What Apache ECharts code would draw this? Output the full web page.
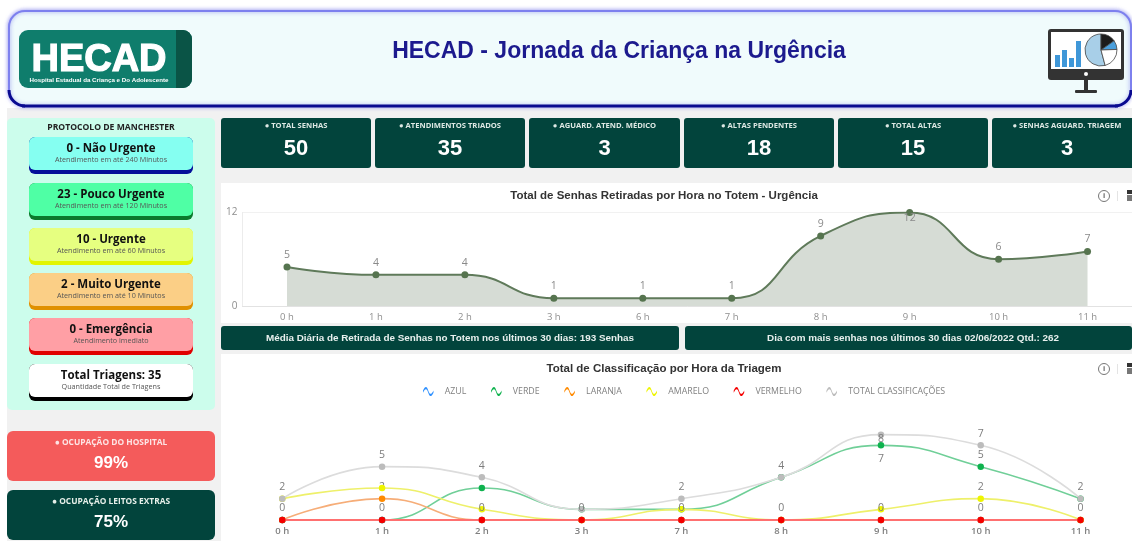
<!DOCTYPE html>
<html><head><meta charset="utf-8">
<style>html,body{margin:0;padding:0;background:#fff}#c{width:1132px;height:541px}</style>
<script src="https://cdn.jsdelivr.net/npm/echarts@6/dist/echarts.min.js"></script>
</head><body><div id="c"></div>
<script>
const totemHours = ['0 h','1 h','2 h','3 h','6 h','7 h','8 h','9 h','10 h','11 h'];
const totemValues = [5,4,4,1,1,1,9,12,6,7];
const triageHours = ['0 h','1 h','2 h','3 h','7 h','8 h','9 h','10 h','11 h'];
const azul = [0,0,0,0,0,0,0,0,0];
const verde = [0,0,3,1,1,4,7,5,2];
const laranja = [0,2,0,0,0,0,0,0,0];
const amarelo = [2,3,1,0,1,0,1,2,0];
const vermelho = [0,0,0,0,0,0,0,0,0];
const totalClass = [2,5,4,1,2,4,8,7,2];
const verdeLabelled = [6,7];
const laranjaLabelled = [1];
const amareloLabelled = [7];
const vermelhoLabelled = [0,1,2,3,4,5,6,7,8];
const totalLabelled = [0,1,2,4,5,6,7,8];
const kpiNames = ['TOTAL SENHAS','ATENDIMENTOS TRIADOS','AGUARD. ATEND. MÉDICO','ALTAS PENDENTES','TOTAL ALTAS','SENHAS AGUARD. TRIAGEM'];
const kpiValues = ['50','35','3','18','15','3'];
const protocolTitles = ['0 - Não Urgente','23 - Pouco Urgente','10 - Urgente','2 - Muito Urgente','0 - Emergência','Total Triagens: 35'];
const protocolNotes = ['Atendimento em até 240 Minutos','Atendimento em até 120 Minutos','Atendimento em até 60 Minutos','Atendimento em até 10 Minutos','Atendimento imediato','Quantidade Total de Triagens'];
const occupancyNames = ['OCUPAÇÃO DO HOSPITAL','OCUPAÇÃO LEITOS EXTRAS'];
const occupancyValues = ['99%','75%'];

const DARK='#02443c', SANS='"Liberation Sans",Arial,sans-serif', OPEN='"Open Sans",sans-serif';
const g=[];
const rect=(x,y,w,h,fill,r=0,extra={})=>g.push({type:'rect',shape:{x,y,width:w,height:h,r},style:{fill,...(extra.style||{})},z:extra.z||1,silent:true});
const text=(x,y,t,font,fill,extra={})=>g.push({type:'text',x,y,style:{text:t,font,fill,align:extra.align||'center',verticalAlign:'middle',stroke:extra.stroke,lineWidth:extra.lw||0},z:extra.z||5,silent:true});

// page + header
rect(7,108,1125,433,'#f1f1f1',0,{z:0});
g.push({type:'rect',shape:{x:9,y:11,width:1122,height:95,r:16},style:{fill:'#f0fbfc',stroke:'#7d80ee',lineWidth:2,shadowBlur:4,shadowColor:'rgba(90,90,230,.6)'},z:1,silent:true});
g.push({type:'polyline',shape:{points:[[22,106],[1118,106]]},style:{stroke:'#0a0a90',lineWidth:3},z:2,silent:true});
g.push({type:'arc',shape:{cx:25,cy:90,r:16,startAngle:Math.PI/2,endAngle:Math.PI},style:{stroke:'#0a0a90',lineWidth:3,fill:'none'},z:2,silent:true});
g.push({type:'arc',shape:{cx:1115,cy:90,r:16,startAngle:0,endAngle:Math.PI/2},style:{stroke:'#0a0a90',lineWidth:3,fill:'none'},z:2,silent:true});
text(619,52,'HECAD - Jornada da Criança na Urgência','bold 23px '+SANS,'#1c1a8e');

// logo
rect(19,30,173,58,'#0f7d6c',9,{z:2});
rect(176,30,16,58,'#0a5446',[0,9,9,0],{z:3});
text(99,61,'HECAD','900 38px '+SANS,'#fff',{stroke:'#fff',lw:1.2});
text(99,80.5,'Hospital Estadual da Criança e Do Adolescente','bold 6.2px '+SANS,'#fff');

// monitor icon
rect(1048,29,76,51,'#333',3,{z:2});
rect(1051,32,70,37,'#fff',0,{z:3});
g.push({type:'circle',shape:{cx:1086,cy:74,r:2},style:{fill:'#fff'},z:4,silent:true});
rect(1084,80,4,10,'#333',0,{z:2});
rect(1075,90,22,3,'#333',1,{z:2});
rect(1055,55,5,12,'#3f97d8',0,{z:4});rect(1062,50,5,17,'#3f97d8',0,{z:4});rect(1069,58,5,9,'#3f97d8',0,{z:4});rect(1076,41,5,26,'#3f97d8',0,{z:4});
const sec=(a,b,fill)=>g.push({type:'sector',shape:{cx:1101,cy:50,r:16,startAngle:a*Math.PI/180,endAngle:b*Math.PI/180},style:{fill,stroke:'#444',lineWidth:.8},z:4,silent:true});
sec(75,270,'#a8cfe8');sec(270,325,'#1c1c1c');sec(325,358,'#4a9fdc');sec(-2,75,'#fff');

// protocol panel
rect(7,118,208,292,'#ccfdec',5,{z:1});
text(111,128,'PROTOCOLO DE MANCHESTER','bold 8.6px '+OPEN,'#222');
const fills=['#85fff1','#4fffa5','#e6ff80','#fbcf86','#ff9fa5','#ffffff'];
const edges=['#04109a','#0a7a2c','#e2f500','#e09000','#e00000','#000000'];
const tops=[137,183,228,273,318,364];
protocolTitles.forEach((t,i)=>{
  rect(29,tops[i],164,37,edges[i],6,{z:2});
  rect(29,tops[i],164,33,fills[i],6,{z:3});
  text(111,tops[i]+12,t,'bold 11.5px '+OPEN,'#111');
  text(111,tops[i]+23,protocolNotes[i],'7.2px '+OPEN,'#555');
});

// occupancy cards
[['#f45b5b',431],[DARK,490]].forEach(([c,y],i)=>{
  rect(7,y,208,50,c,6,{z:2});
  text(111,y+12,'● '+occupancyNames[i],'bold 8.4px '+OPEN,i?'#e6efe9':'#fde4e4');
  text(111,y+32,occupancyValues[i],'bold 17px '+SANS,'#fff');
});

// KPI cards
const kx=[221,375,529,684,838,992], kw=[150,150,151,150,150,150];
kpiNames.forEach((n,i)=>{
  rect(kx[i],118,kw[i],50,DARK,3,{z:2});
  text(kx[i]+kw[i]/2,126,'● '+n,'bold 7.6px '+OPEN,'#dde8e4');
  text(kx[i]+kw[i]/2,148.5,kpiValues[i],'bold 22px '+SANS,'#fff');
});

// chart panels + info bars
rect(221,183,911,140,'#fff',0,{z:1});
rect(221,354,911,187,'#fff',0,{z:1});
rect(221,326,458,24,DARK,3,{z:2});
rect(685,326,447,24,DARK,3,{z:2});
text(450,338.5,'Média Diária de Retirada de Senhas no Totem nos últimos 30 dias: 193 Senhas','bold 9.9px '+SANS,'#e8f0ee');
text(913,338.5,'Dia com mais senhas nos últimos 30 dias 02/06/2022 Qtd.: 262','bold 9.9px '+SANS,'#e8f0ee');

// toolbar glyphs
[196,369].forEach(y=>{
  g.push({type:'circle',shape:{cx:1104,cy:y,r:5.5},style:{fill:'#fff',stroke:'#777',lineWidth:1},z:3,silent:true});
  text(1104,y,'i','bold 8px '+SANS,'#666');
  rect(1117,y-5,1,10,'#e4e4e4',0,{z:3});
  rect(1127,y-6,5,4,'#333',0,{z:3});
  rect(1127,y-1,5,6,'#777',0,{z:3});
});

// below: map of point index -> label offset below the mark
const lab=(vals,list,below={})=>vals.map((v,i)=>({value:v,label:
  i in below ? {show:true,position:'inside',offset:[0,below[i]]}
             : {show:list.includes(i),position:'top'}}));
const triSeries=(name,vals,lineC,markC,list,below,z,w=1.6)=>({
  name,type:'line',xAxisIndex:1,yAxisIndex:1,smooth:true,data:lab(vals,list,below),z,
  symbol:'circle',symbolSize:6.5,
  lineStyle:{color:lineC,width:w},itemStyle:{color:markC},
  label:{color:'#7d7d7d',fontSize:10.5,fontFamily:OPEN,distance:3},
  emphasis:{disabled:true}
});
const wave='path://M0,5 C3,-1 5,-1 7,5 C9,11 11,11 14,5 L14,8 C11,14 9,14 7,8 C5,2 3,2 0,8 Z';

const option={
  animation:false,backgroundColor:'transparent',
  title:[
    {text:'Total de Senhas Retiradas por Hora no Totem - Urgência',left:664,top:190,textAlign:'center',textStyle:{fontFamily:SANS,fontSize:11.5,fontWeight:'bold',color:'#333'},padding:0},
    {text:'Total de Classificação por Hora da Triagem',left:664,top:363,textAlign:'center',textStyle:{fontFamily:SANS,fontSize:11.5,fontWeight:'bold',color:'#333'},padding:0}
  ],
  legend:{left:418,top:382,icon:wave,itemWidth:13,itemHeight:9,itemGap:24.7,
    textStyle:{fontFamily:OPEN,fontSize:8.8,color:'#808080',padding:[0,0,0,5]},
    itemStyle:{borderWidth:0},
    data:['AZUL','VERDE','LARANJA','AMARELO','VERMELHO','TOTAL CLASSIFICAÇÕES']},
  grid:[
    {left:242.5,top:212.5,width:896,height:93.5,containLabel:false},
    {left:232.4,top:392,width:898,height:128,containLabel:false}
  ],
  xAxis:[
    {gridIndex:0,type:'category',data:totemHours,boundaryGap:true,z:3,
     axisLine:{lineStyle:{color:'#e2e2e2'}},axisTick:{alignWithLabel:true,length:4,lineStyle:{color:'#e2e2e2'}},
     axisLabel:{color:'#8e8e8e',fontSize:9.5,fontFamily:OPEN,margin:6,interval:0},splitLine:{show:false}},
    {gridIndex:1,type:'category',data:triageHours,boundaryGap:true,z:3,
     axisLine:{show:false},axisTick:{show:false},
     axisLabel:{color:'#808080',fontSize:9.5,fontFamily:OPEN,fontWeight:600,margin:6,interval:0},splitLine:{show:false}}
  ],
  yAxis:[
    {gridIndex:0,type:'value',min:0,max:12,interval:12,z:3,
     axisLine:{show:true,lineStyle:{color:'#ececec'}},axisTick:{show:false},
     axisLabel:{color:'#8e8e8e',fontSize:10,fontFamily:OPEN,margin:5},
     splitLine:{show:true,lineStyle:{type:'dotted',color:'#e2e2e2'}}},
    {gridIndex:1,type:'value',min:0,max:12,show:false,splitLine:{show:false}}
  ],
  series:[
    {name:'Senhas',type:'line',xAxisIndex:0,yAxisIndex:0,smooth:true,
     data:lab(totemValues,totemValues.map((_,i)=>i),{7:6}),
     symbol:'circle',symbolSize:7,
     lineStyle:{color:'#5f7a5a',width:2},itemStyle:{color:'#56744f'},
     areaStyle:{color:'#d6dcd5',opacity:1},
     label:{color:'#8a8a8a',fontSize:10.5,fontFamily:OPEN,distance:3},
     emphasis:{disabled:true}},
    triSeries('AZUL',azul,'#2e90ff','#2e90ff',[],{},2),
    triSeries('VERDE',verde,'#70cf98','#0eb24e',verdeLabelled,{6:14},3),
    triSeries('LARANJA',laranja,'#f6ad78','#ff8a00',laranjaLabelled,{},4),
    triSeries('AMARELO',amarelo,'#eef06a','#eef500',amareloLabelled,{},5),
    triSeries('TOTAL CLASSIFICAÇÕES',totalClass,'#dcdcdc','#bcbcbc',totalLabelled,{6:4},6),
    triSeries('VERMELHO',vermelho,'#ff7070','#f40000',vermelhoLabelled,{},7,2)
  ],
  graphic:{elements:g}
};
const chart=echarts.init(document.getElementById('c'));
chart.setOption(option);
</script></body></html>
